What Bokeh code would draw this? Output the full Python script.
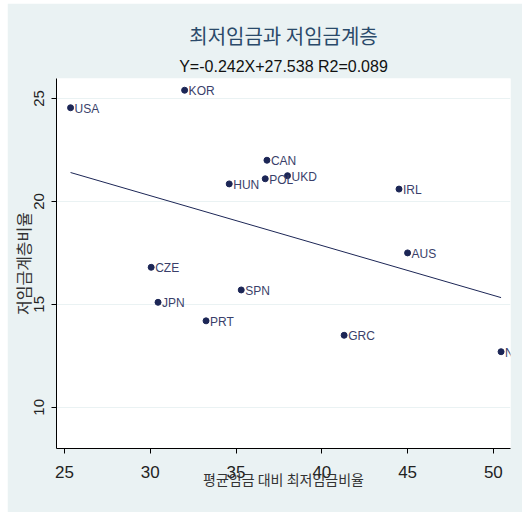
from bokeh.plotting import figure
from bokeh.models import Title, Range1d, FixedTicker
from bokeh.core.properties import value
from bokeh.embed import file_html
from bokeh.resources import INLINE

countries = ["USA", "KOR", "HUN", "CZE", "JPN", "PRT", "SPN", "CAN", "POL", "UKD", "IRL", "AUS", "GRC", "NE"]
min_wage_ratio = [25.35, 32.0, 34.6, 30.05, 30.45, 33.25, 35.3, 36.8, 36.7, 38.0, 44.5, 45.0, 41.3, 50.45]
low_wage_share = [24.55, 25.4, 20.85, 16.8, 15.1, 14.2, 15.7, 22.0, 21.1, 21.25, 20.6, 17.5, 13.5, 12.7]
slope = -0.242
intercept = 27.538
x_ticks = [25, 30, 35, 40, 45, 50]
y_ticks = [10, 15, 20, 25]

BG = "#eaf2f3"
NAVY = "#1c2656"
SANS = "Liberation Sans"
KR = "Noto Sans CJK KR"

p = figure(width=515, height=509, output_backend="svg", toolbar_location=None,
           title=None, margin=(3, 0, 6, 7),
           x_range=Range1d(24.53, 51.0), y_range=Range1d(8.0, 25.97),
           min_border_left=48, min_border_right=12, min_border_top=75, min_border_bottom=64)
p.background_fill_color = "white"
p.border_fill_color = BG
p.outline_line_color = None

sub = Title(text="Y=-0.242X+27.538 R2=0.089", align="center", text_font=SANS,
            text_font_size="16px", text_font_style="normal", text_color="#111111", standoff=8)
p.add_layout(sub, "above")
main = Title(text="최저임금과 저임금계층", align="center", text_font=KR,
             text_font_size="20px", text_font_style="normal", text_color="#2a4a6a", standoff=3)
p.add_layout(main, "above")

# axes
p.xaxis.ticker = FixedTicker(ticks=x_ticks)
p.yaxis.ticker = FixedTicker(ticks=y_ticks)
for ax in (p.xaxis[0], p.yaxis[0]):
    ax.axis_line_color = "black"
    ax.major_tick_line_color = "black"
    ax.major_tick_out = 5
    ax.major_tick_in = 0
    ax.minor_tick_line_color = None
    ax.major_label_text_font = SANS
    ax.major_label_text_color = "#222222"
    ax.axis_label_text_font = KR
    ax.axis_label_text_font_style = "normal"
    ax.axis_label_text_color = "#333333"
p.xaxis.major_label_text_font_size = "17px"
p.yaxis.major_label_text_font_size = "15px"
p.xaxis.axis_label_text_font_size = "14px"
p.yaxis.axis_label_text_font_size = "16px"
p.yaxis.major_label_orientation = "vertical"
p.xaxis.axis_label = "평균임금 대비 최저임금비율"
p.yaxis.axis_label = "저임금계층비율"
p.xaxis.axis_label_standoff = -12
p.yaxis.axis_label_standoff = -3
p.xaxis.major_label_standoff = 12
p.yaxis.major_label_standoff = 7

p.xgrid.grid_line_color = None
p.ygrid.grid_line_color = BG
p.ygrid.grid_line_width = 1

# regression line
x0, x1 = min(min_wage_ratio), max(min_wage_ratio)
p.line([x0, x1], [slope * x0 + intercept, slope * x1 + intercept], line_color=NAVY, line_width=1)

p.scatter(min_wage_ratio, low_wage_share, size=6, fill_color=NAVY, line_color=NAVY)
p.text(min_wage_ratio, low_wage_share, text=countries, x_offset=4, y_offset=1,
       text_baseline="middle", text_align="left", text_font=value(SANS),
       text_font_size="12px", text_color="#3a3f6a")

open("out.html", "w").write(file_html(p, INLINE))
